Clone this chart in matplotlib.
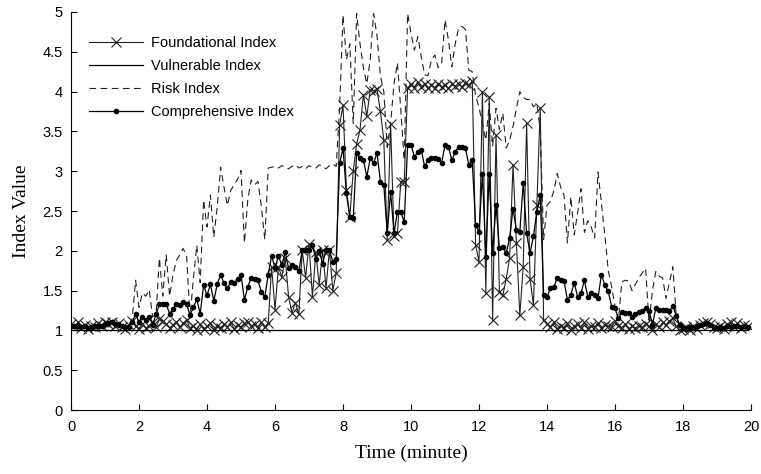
import numpy as np
import matplotlib.pyplot as plt

# === DATA (one sample every 0.1 minute, rows = one minute) ===
STEP_MIN = 0.1

foundational = [
    1.08, 1.05, 1.10, 1.03, 1.07, 1.02, 1.06, 1.04, 1.09, 1.05,
    1.10, 1.08, 1.11, 1.06, 1.09, 1.04, 1.02, 1.07, 1.12, 1.05,
    1.02, 1.08, 1.03, 1.06, 1.10, 1.04, 1.14, 1.12, 1.08, 1.03,
    1.07, 1.11, 1.04, 1.09, 1.13, 1.03, 1.06, 1.01, 1.08, 1.02,
    1.05, 1.09, 1.01, 1.06, 1.03, 1.08, 1.04, 1.10, 1.02, 1.07,
    1.04, 1.09, 1.11, 1.05, 1.08, 1.03, 1.10, 1.04, 1.09, 1.80,
    1.26, 1.80, 1.67, 1.91, 1.42, 1.22, 1.35, 1.20, 2.01, 1.66,
    2.09, 1.42, 1.98, 1.57, 2.01, 1.53, 2.01, 1.50, 1.72, 3.58,
    3.83, 2.76, 2.43, 3.00, 3.34, 3.52, 3.96, 3.69, 4.02, 4.01,
    4.03, 3.75, 3.39, 2.14, 3.59, 2.18, 2.22, 2.87, 2.87, 4.04,
    4.10, 4.05, 4.12, 4.06, 4.09, 4.04, 4.08, 4.05, 4.10, 4.06,
    4.08, 4.04, 4.09, 4.07, 4.10, 4.06, 4.11, 4.08, 4.13, 2.07,
    1.86, 4.00, 1.47, 3.93, 1.13, 3.45, 1.48, 1.44, 1.65, 1.91,
    3.08, 2.10, 1.19, 1.80, 3.60, 1.65, 1.32, 2.57, 3.80, 1.13,
    1.08, 1.04, 1.10, 1.02, 1.06, 1.03, 1.09, 1.01, 1.05, 1.08,
    1.03, 1.10, 1.02, 1.06, 1.04, 1.09, 1.03, 1.07, 1.05, 1.04,
    1.12, 1.06, 1.03, 1.08, 1.02, 1.05, 1.03, 1.06, 1.04, 1.08,
    1.05, 1.00, 1.08, 1.04, 1.10, 1.07, 1.12, 1.15, 1.05, 1.00,
    1.02, 1.04, 1.01, 1.05, 1.02, 1.07, 1.09, 1.10, 1.08, 1.04,
    1.03, 1.06, 1.02, 1.08, 1.10, 1.04, 1.09, 1.03, 1.07, 1.05,
]

vulnerable = [1.0] * len(foundational)

risk = [
    1.07, 1.05, 1.08, 1.04, 1.06, 1.03, 1.05, 1.06, 1.08, 1.06,
    1.10, 1.11, 1.12, 1.10, 1.09, 1.06, 1.05, 1.06, 1.15, 1.63,
    1.29, 1.47, 1.43, 1.51, 1.17, 1.20, 1.91, 1.43, 1.95, 1.43,
    1.70, 1.88, 1.95, 2.03, 1.93, 1.17, 1.65, 2.07, 1.60, 2.64,
    2.30, 2.70, 2.17, 2.55, 3.05, 2.80, 2.57, 2.76, 2.83, 2.90,
    3.01, 2.10, 2.65, 2.89, 2.83, 2.87, 2.55, 2.14, 3.04, 3.05,
    3.06, 3.04, 3.07, 3.05, 3.03, 3.06, 3.08, 3.04, 3.06, 3.03,
    3.07, 3.05, 3.04, 3.08, 3.06, 3.03, 3.07, 3.09, 3.06, 3.80,
    4.96, 4.40, 4.60, 3.60, 4.98, 4.60, 4.30, 4.10, 4.40, 4.98,
    4.70, 4.20, 4.00, 3.30, 3.60, 4.10, 4.36, 3.77, 3.14, 4.98,
    4.73, 4.52, 4.69, 4.44, 4.21, 4.20, 4.40, 4.46, 4.30, 4.35,
    4.90, 4.65, 4.31, 4.60, 4.80, 4.82, 4.78, 4.27, 4.25, 3.95,
    3.80, 3.60, 3.39, 3.85, 3.31, 3.79, 3.52, 3.73, 3.29, 3.39,
    3.56, 3.79, 4.00, 3.93, 3.90, 3.90, 3.81, 3.85, 3.52, 2.14,
    2.57, 2.62, 2.75, 2.97, 2.80, 2.70, 2.10, 2.68, 2.20, 2.48,
    2.78, 2.23, 2.38, 2.30, 2.16, 2.99, 2.60, 2.20, 1.75, 1.55,
    1.30, 1.13, 1.61, 1.63, 1.62, 1.50, 1.58, 1.66, 1.72, 1.78,
    1.09, 1.50, 1.74, 1.68, 1.66, 1.40, 1.60, 1.80, 1.18, 1.04,
    1.02, 1.03, 1.02, 1.04, 1.03, 1.06, 1.07, 1.08, 1.06, 1.04,
    1.03, 1.04, 1.03, 1.05, 1.04, 1.06, 1.05, 1.04, 1.05, 1.04,
]

comprehensive = [
    1.06, 1.05, 1.06, 1.04, 1.05, 1.03, 1.04, 1.05, 1.06, 1.05,
    1.08, 1.09, 1.10, 1.08, 1.07, 1.05, 1.04, 1.04, 1.10, 1.21,
    1.10, 1.17, 1.13, 1.17, 1.07, 1.20, 1.33, 1.33, 1.33, 1.21,
    1.27, 1.33, 1.32, 1.36, 1.33, 1.19, 1.29, 1.39, 1.21, 1.57,
    1.44, 1.58, 1.37, 1.58, 1.70, 1.59, 1.53, 1.61, 1.60, 1.64,
    1.70, 1.38, 1.55, 1.66, 1.64, 1.63, 1.48, 1.42, 1.70, 1.94,
    1.78, 1.94, 1.82, 1.98, 1.78, 1.82, 1.80, 1.74, 2.01, 2.01,
    2.01, 2.07, 1.90, 2.00, 1.84, 2.01, 2.01, 1.86, 1.90, 3.10,
    3.29, 2.72, 2.43, 2.41, 3.23, 3.16, 3.14, 2.93, 3.16, 3.10,
    3.23, 2.87, 2.83, 2.22, 2.74, 2.22, 2.49, 2.49, 2.36, 3.33,
    3.33, 3.18, 3.24, 3.27, 3.06, 3.14, 3.16, 3.16, 3.15, 3.10,
    3.33, 3.31, 3.14, 3.24, 3.31, 3.31, 3.29, 3.08, 3.14, 2.32,
    2.24, 2.97, 1.92, 2.97, 1.97, 2.57, 2.03, 2.05, 1.97, 2.16,
    2.53, 2.26, 2.24, 2.85, 2.22, 1.97, 2.18, 2.49, 2.70, 1.45,
    1.42, 1.53, 1.54, 1.66, 1.63, 1.62, 1.38, 1.45, 1.60, 1.42,
    1.47, 1.63, 1.42, 1.47, 1.44, 1.41, 1.70, 1.57, 1.49, 1.30,
    1.28, 1.15, 1.23, 1.22, 1.22, 1.17, 1.21, 1.23, 1.25, 1.28,
    1.25, 1.07, 1.28, 1.26, 1.26, 1.26, 1.24, 1.31, 1.18, 1.07,
    1.03, 1.02, 1.04, 1.03, 1.05, 1.07, 1.08, 1.09, 1.07, 1.04,
    1.03, 1.04, 1.03, 1.05, 1.04, 1.06, 1.05, 1.04, 1.05, 1.04,
]

x_ticks = [0, 2, 4, 6, 8, 10, 12, 14, 16, 18, 20]
y_ticks = [0, 0.5, 1, 1.5, 2, 2.5, 3, 3.5, 4, 4.5, 5]
y_tick_labels = ['0', '0.5', '1', '1.5', '2', '2.5', '3', '3.5', '4', '4.5', '5']

# time axis: sample index * step
t = np.arange(len(foundational)) * STEP_MIN

SANS = ['Liberation Sans', 'DejaVu Sans']
SERIF = ['Liberation Serif', 'DejaVu Serif']

fig = plt.figure(figsize=(7.61, 4.74), dpi=100)
ax = fig.add_axes([0.0933, 0.135, 0.8936, 0.8397])

ax.plot(t, foundational, color='#222222', lw=0.8, marker='x', ms=7, mew=0.8,
        label='Foundational Index')
ax.plot(t, vulnerable, color='black', lw=0.9, label='Vulnerable Index')
ax.plot(t, risk, color='#222222', lw=0.8, ls=(0, (6, 4)), label='Risk Index')
ax.plot(t, comprehensive, color='black', lw=0.9, marker='.', ms=6,
        label='Comprehensive Index')

ax.set_xlim(0, 20)
ax.set_ylim(0, 5)
ax.set_xticks(x_ticks)
ax.set_yticks(y_ticks)
ax.set_yticklabels(y_tick_labels)
for lab in ax.get_xticklabels() + ax.get_yticklabels():
    lab.set_family(SANS)
    lab.set_fontsize(10.5)
ax.tick_params(direction='in', length=4, width=0.8)
ax.tick_params(axis='x', pad=7)
ax.tick_params(axis='y', pad=6)
ax.spines['top'].set_visible(False)
ax.spines['right'].set_visible(False)

ax.set_xlabel('Time (minute)', family=SERIF, fontsize=14, labelpad=8)
ax.set_ylabel('Index Value', family=SERIF, fontsize=14, labelpad=9)

ax.legend(loc='upper left', bbox_to_anchor=(0.012, 0.965), frameon=False,
          prop={'family': SANS, 'size': 10.5}, handlelength=3.7,
          handletextpad=0.5, labelspacing=0.62, borderaxespad=0.3)

plt.savefig('out.png', dpi=100)
